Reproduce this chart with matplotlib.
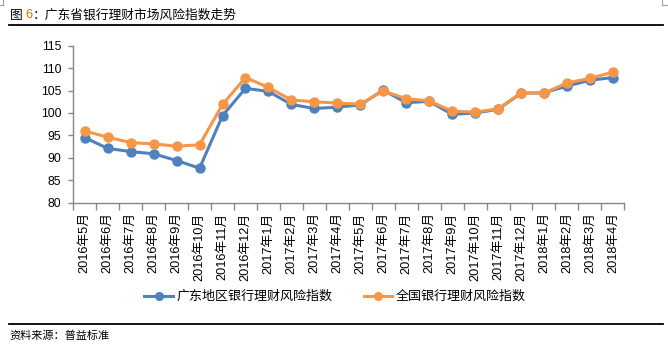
import matplotlib
matplotlib.use("Agg")
import matplotlib.pyplot as plt
from matplotlib.lines import Line2D

plt.rcParams['font.family'] = ['Liberation Sans', 'Noto Sans CJK SC', 'DejaVu Sans']

months = ["2016年5月", "2016年6月", "2016年7月", "2016年8月", "2016年9月", "2016年10月",
          "2016年11月", "2016年12月", "2017年1月", "2017年2月", "2017年3月", "2017年4月",
          "2017年5月", "2017年6月", "2017年7月", "2017年8月", "2017年9月", "2017年10月",
          "2017年11月", "2017年12月", "2018年1月", "2018年2月", "2018年3月", "2018年4月"]
guangdong = [94.5, 92.1, 91.4, 90.9, 89.4, 87.7, 99.4, 105.5, 104.8, 101.9, 101.0, 101.3,
             101.8, 105.1, 102.3, 102.6, 99.7, 100.0, 100.8, 104.4, 104.5, 106.0, 107.3, 107.9]
national = [96.0, 94.6, 93.4, 93.1, 92.6, 92.9, 101.9, 107.9, 105.7, 102.9, 102.5, 102.2,
            102.0, 104.9, 103.2, 102.7, 100.4, 100.2, 100.9, 104.5, 104.4, 106.7, 107.7, 109.1]
yticks = [80, 85, 90, 95, 100, 105, 110, 115]
series_names = ["广东地区银行理财风险指数", "全国银行理财风险指数"]
title_prefix = "图 "
title_num = "6"
title_rest = "：广东省银行理财市场风险指数走势"
source = "资料来源：普益标准"

W, H = 668, 355
fig = plt.figure(figsize=(W / 100, H / 100), dpi=100)
ax = fig.add_axes([73.3 / W, 1 - 202.7 / H, (624.3 - 73.3) / W, (202.7 - 45.7) / H])

blue = '#4F81BD'
orange = '#F79646'
x = list(range(len(months)))
ax.plot(x, guangdong, color=blue, lw=2.2, marker='o', ms=6.5, label=series_names[0], zorder=3)
ax.plot(x, national, color=orange, lw=2.2, marker='o', ms=6.5, label=series_names[1], zorder=4)

ax.set_xlim(-0.5, len(months) - 0.5)
ax.set_ylim(80, 115)
ax.set_yticks(yticks)
ax.set_yticklabels([str(v) for v in yticks], fontsize=8.8)
ax.set_xticks([i - 0.5 for i in range(len(months) + 1)], minor=False)
ax.set_xticklabels([])
ax.set_xticks(x, minor=True)
ax.set_xticklabels(months, minor=True, rotation=90, fontsize=9.2, va='top')
ax.tick_params(axis='x', which='major', length=5, color='#868686', width=1)
ax.tick_params(axis='x', which='minor', length=0, pad=7)
ax.tick_params(axis='y', length=3.5, color='#868686', width=1, pad=5)
for s in ['top', 'right']:
    ax.spines[s].set_visible(False)
for s in ['left', 'bottom']:
    ax.spines[s].set_color('#868686')
    ax.spines[s].set_linewidth(1)

leg = fig.legend(loc='center', bbox_to_anchor=(335 / W, 1 - 297 / H), ncol=2, frameon=False,
                 fontsize=9.4, handlelength=2.2, handletextpad=0.25, columnspacing=2.4,
                 markerscale=0.85)

# title
t1 = fig.text(10 / W, 1 - 15 / H, title_prefix, fontsize=9.2, va='center', ha='left',
              family=['Noto Sans CJK SC'])
fig.canvas.draw()
r = fig.canvas.get_renderer()
bb = t1.get_window_extent(r)
t2 = fig.text(bb.x1 / W, 1 - 15 / H, title_num, fontsize=9.2, va='center', ha='left',
              color='#E36C09', family=['Liberation Sans'])
bb2 = t2.get_window_extent(r)
fig.text(bb2.x1 / W, 1 - 15 / H, title_rest, fontsize=9.2, va='center', ha='left',
         family=['Noto Sans CJK SC'])

fig.add_artist(Line2D([9 / W, 663 / W], [1 - 25 / H, 1 - 25 / H], color='black', lw=1.3))
fig.add_artist(Line2D([9 / W, 663 / W], [1 - 324 / H, 1 - 324 / H], color='black', lw=1.3))
fig.text(9 / W, 1 - 336 / H, source, fontsize=8, va='center', ha='left',
         family=['Noto Sans CJK SC'])

# corner marks
g = '#A0A0A0'
fig.add_artist(Line2D([3 / W, 3 / W], [1, 1 - 5 / H], color=g, lw=0.8))
fig.add_artist(Line2D([0, 3 / W], [1 - 5 / H, 1 - 5 / H], color=g, lw=0.8))
fig.add_artist(Line2D([662 / W, 662 / W], [1, 1 - 5 / H], color=g, lw=0.8))
fig.add_artist(Line2D([662 / W, 1], [1 - 5 / H, 1 - 5 / H], color=g, lw=0.8))

fig.savefig('out.png', dpi=100)
